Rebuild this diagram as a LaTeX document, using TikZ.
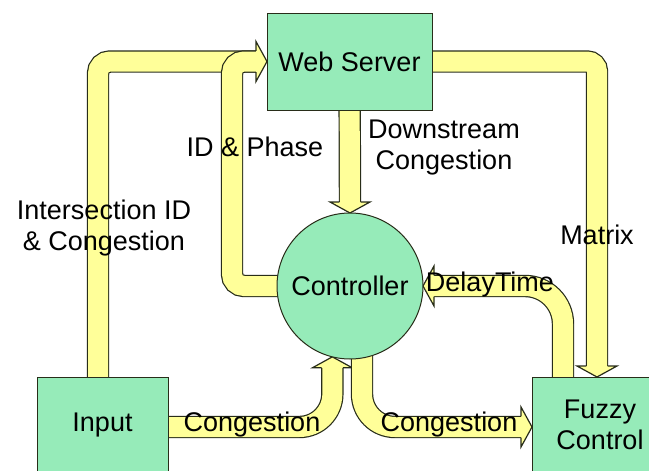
\documentclass[tikz,border=0pt]{standalone}
\usepackage{fontspec}
\setmainfont{Liberation Sans}
\usepackage{tikz}
\usetikzlibrary{calc,positioning}
\definecolor{boxgreen}{RGB}{150,235,185}
\definecolor{bandyellow}{RGB}{255,255,153}
\definecolor{edgedark}{RGB}{40,45,25}
\pgfdeclarelayer{background}
\pgfsetlayers{background,main}
\tikzset{
  unit/.style={draw=edgedark, fill=boxgreen, line width=1pt, inner sep=0pt, outer sep=0pt,
    align=center, font=\fontsize{27}{31}\selectfont},
  lbl/.style={align=center, inner sep=0pt, font=\fontsize{27}{31}\selectfont},
  fat/.style={draw=edgedark, line width=1.2pt, double=bandyellow, double distance=20pt}
}
% arrow head: tip, direction
\newcommand{\fathead}[2]{%
  \begin{scope}[shift={(#1)}, rotate=#2]
    \fill[bandyellow] (-11pt,10.6pt) -- (-11pt,20pt) -- (0,0) -- (-11pt,-20pt) -- (-11pt,-10.6pt) -- cycle;
    \draw[edgedark, line width=1.2pt, line join=miter] (-11pt,10.6pt) -- (-11pt,20pt) -- (0,0) -- (-11pt,-20pt) -- (-11pt,-10.6pt);
  \end{scope}}
\begin{document}
\begin{tikzpicture}[x=1pt, y=-1pt]
        \clip (0,0) rectangle (649,471);
        % Blocks
        \node[unit, minimum width=165pt, minimum height=97pt] (ws) at (349.5,61.5) {Web Server};
        \node[unit, circle, minimum size=146pt] (ctrl) at (350,286) {Controller};
        \node[unit, minimum width=131pt, minimum height=96pt] (input) at (102.5,425) {Input};
        \node[unit, minimum width=136pt, minimum height=96pt] (fuzzy) at (600,425) {Fuzzy\\Control};
        % Labels
        \node[lbl] (idcong) at (104,228) {Intersection ID\\\& Congestion};
        \node[lbl] (idphase) at (255,147) {ID \& Phase};
        \node[lbl] (down) at (444,148) {Downstream\\Congestion};
        \node[lbl] (matrix) at (597,235) {Matrix};
        \node[lbl] (delay) at (490,285) {DelayTime};
        \node[lbl] (congin) at (252,425) {Congestion};
        \node[lbl] (congout) at (449,425) {Congestion};
        % Data flows
        \begin{pgfonlayer}{background}
          \fill[white] (0,0) rectangle (649,471);
          % Input to web server
          \draw[fat, rounded corners=12pt] ([xshift=-4.5pt]input.center) |- ([xshift=-11pt]ws.west);
          % Controller to web server
          \draw[fat, rounded corners=12pt] (ctrl.center) -| ($(ws.west)+(-35,0)$) -- ([xshift=-11pt]ws.west);
          \fathead{ws.west}{0}
          % Web server to controller
          \draw[fat] (ws.center) -- ([yshift=11pt]ctrl.north);
          \fathead{ctrl.north}{-90}
          % Web server to fuzzy control
          \draw[fat, rounded corners=10pt] (ws.center) -| ([xshift=-3pt,yshift=11pt]fuzzy.north);
          \fathead{[xshift=-3pt]fuzzy.north}{-90}
          % Fuzzy control to controller
          \draw[fat, rounded corners=38pt] ([xshift=-37pt]fuzzy.center) |- ([xshift=11pt]ctrl.east);
          \fathead{ctrl.east}{180}
          % Input to controller
          \draw[fat, rounded corners=33pt] ([yshift=-2pt]input.center) -| ([yshift=-11pt]ctrl.256.5);
          \fathead{ctrl.256.5}{90}
          % Controller to fuzzy control
          \draw[fat, rounded corners=33pt] ([xshift=12pt]ctrl.center) |- ([xshift=-11pt,yshift=-2pt]fuzzy.west);
          \fathead{[yshift=-2pt]fuzzy.west}{0}
        \end{pgfonlayer}
\end{tikzpicture}
\end{document}
